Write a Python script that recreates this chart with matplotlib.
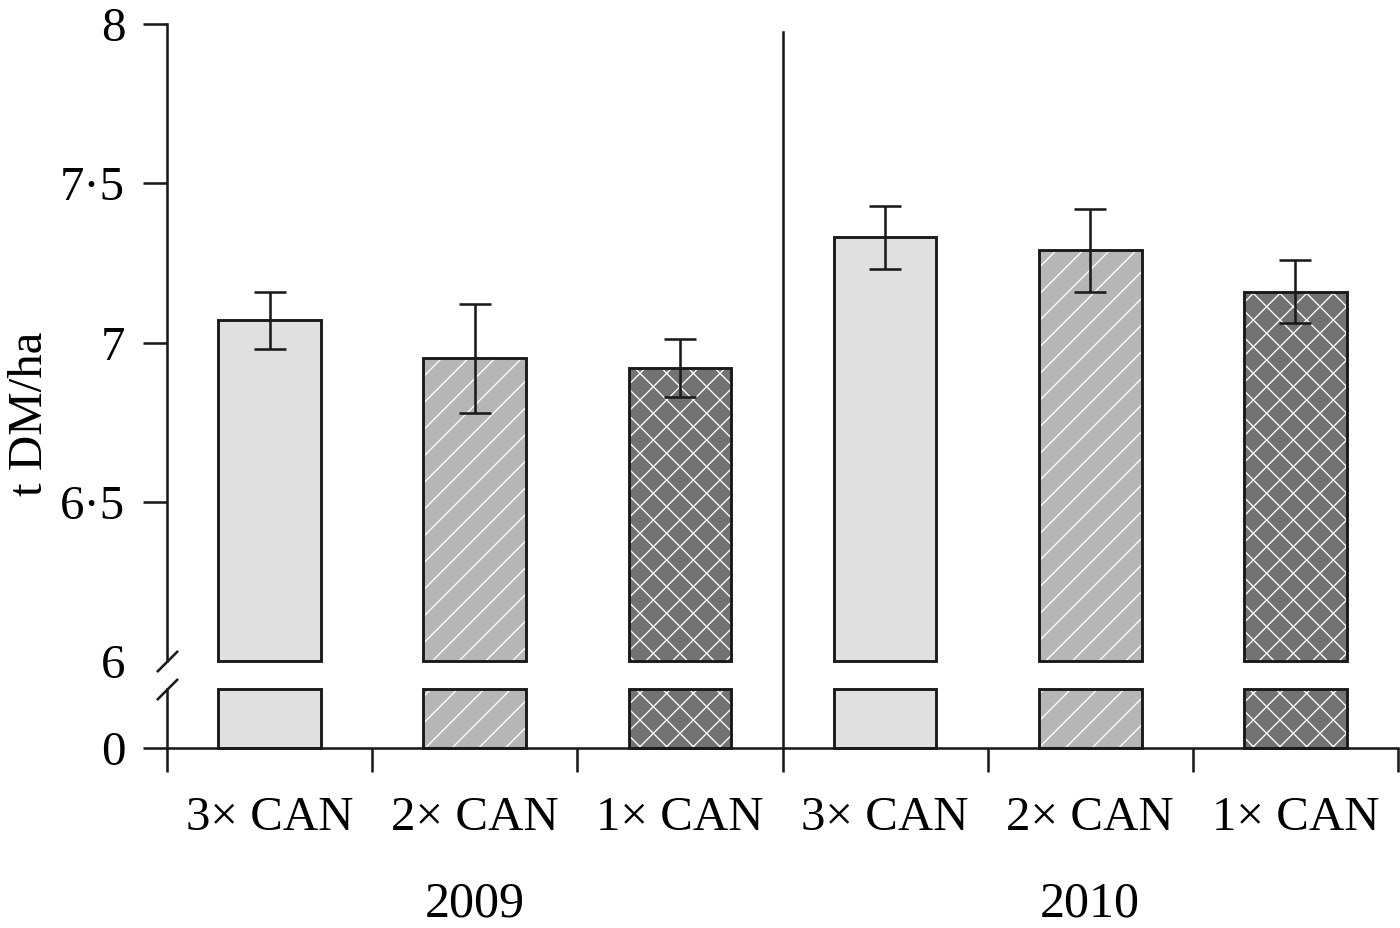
import numpy as np
import matplotlib
matplotlib.use('Agg')
import matplotlib.pyplot as plt
from matplotlib.transforms import blended_transform_factory

# data
years = ['2009', '2010']
treatments = ['3\u00d7 CAN', '2\u00d7 CAN', '1\u00d7 CAN']
yield_2009 = [7.07, 6.95, 6.92]
yield_2010 = [7.33, 7.29, 7.16]
se_2009 = [0.09, 0.17, 0.09]
se_2010 = [0.10, 0.13, 0.10]
ytick_vals = [6, 6.5, 7, 7.5, 8]
ytick_labels = ['6', '6\u00b75', '7', '7\u00b75', '8']

values = np.array(yield_2009 + yield_2010)
errors = np.array(se_2009 + se_2010)
labels = treatments * len(years)
x = np.arange(len(values))

fills = ['#e0e0e0', '#b6b6b6', '#727272'] * len(years)
hatches = ['', '/', 'x'] * len(years)

plt.rcParams['font.family'] = ['Liberation Serif', 'DejaVu Serif']
plt.rcParams['hatch.linewidth'] = 1.2

DPI = 80
fig = plt.figure(figsize=(1400 / DPI, 928 / DPI), dpi=DPI)

W, H = 1400, 928
left = 167 / W
width = 1231 / W
ax = fig.add_axes([left, 1 - 661 / H, width, (661 - 24) / H])
ax_lo = fig.add_axes([left, 1 - 748 / H, width, (748 - 689) / H])
ax.patch.set_alpha(0)
ax_lo.patch.set_alpha(0)

lw = 2.3
line_col = '#1a1a1a'
base = ytick_vals[0]
bw = 0.5

# upper part: bars from the break value up
ax.bar(x, values - base, bottom=base, width=bw, color=fills, hatch=hatches,
       edgecolor='white', linewidth=0, clip_on=False)
ax.bar(x, values - base, bottom=base, width=bw, fill=False,
       edgecolor=line_col, linewidth=2.6, clip_on=False)
ax.errorbar(x, values, yerr=errors, fmt='none', ecolor=line_col,
            elinewidth=2.3, capsize=14, capthick=2.3)

ax.set_xlim(-0.5, len(values) - 0.5)
ax.set_ylim(base, ytick_vals[-1])
ax.set_yticks(ytick_vals)
ax.set_yticklabels(ytick_labels)
ax.yaxis.get_major_ticks()[0].tick1line.set_visible(False)
ax.set_xticks([])
for s in ['top', 'right', 'bottom']:
    ax.spines[s].set_visible(False)
ax.spines['left'].set_linewidth(lw)
ax.spines['left'].set_color(line_col)
ax.tick_params(axis='y', direction='out', length=21.6, width=lw,
               color=line_col, pad=16, labelsize=44)

# lower part: short stubs above zero
stub = np.ones_like(values)
ax_lo.bar(x, stub, width=bw, color=fills, hatch=hatches,
          edgecolor='white', linewidth=0, clip_on=False)
ax_lo.bar(x, stub, width=bw, fill=False, edgecolor=line_col,
          linewidth=2.6, clip_on=False)
ax_lo.set_xlim(-0.5, len(values) - 0.5)
ax_lo.set_ylim(0, 1)
ax_lo.set_yticks([0])
ax_lo.set_yticklabels(['0'])
ax_lo.set_xticks(np.arange(len(values) + 1) - 0.5)
ax_lo.set_xticklabels([])
ax_lo.set_xticks(x, minor=True)
ax_lo.set_xticklabels(labels, minor=True)
for s in ['top', 'right']:
    ax_lo.spines[s].set_visible(False)
for s in ['left', 'bottom']:
    ax_lo.spines[s].set_linewidth(lw)
    ax_lo.spines[s].set_color(line_col)
ax_lo.tick_params(axis='both', which='major', direction='out', length=21.6,
                  width=lw, color=line_col, pad=16, labelsize=44)
ax_lo.tick_params(axis='x', which='minor', length=0, pad=43, labelsize=44)

# year labels under each group
n = len(treatments)
for i, yr in enumerate(years):
    ax_lo.annotate(yr, xy=(i * n + (n - 1) / 2, 0),
                   xycoords=('data', 'axes fraction'),
                   xytext=(0, -152), textcoords='offset points',
                   ha='center', va='baseline', fontsize=45)

# separator between years
split = n - 0.5
tr = blended_transform_factory(ax.transData, fig.transFigure)
ax.plot([split, split], [1 - 32 / H, 1 - 748 / H], transform=tr,
        color=line_col, lw=lw, clip_on=False)

# axis break marks
brk = dict(marker=[(-1, -1), (1, 1)], markersize=19, linestyle='none',
           color=line_col, mec=line_col, mew=lw, clip_on=False)
ax.plot([0], [0], transform=ax.transAxes, **brk)
ax_lo.plot([0], [1], transform=ax_lo.transAxes, **brk)

fig.text(30 / W, 1 - 414 / H, 't DM/ha', rotation=90, ha='center',
         va='center', fontsize=44)

fig.savefig('out.png', dpi=DPI)
